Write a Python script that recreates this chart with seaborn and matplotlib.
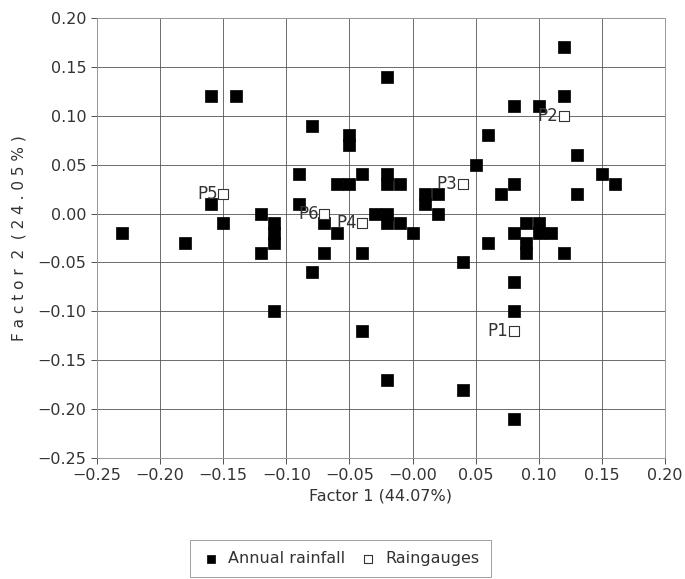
import numpy as np
import pandas as pd
import matplotlib
matplotlib.use("Agg")
import matplotlib.pyplot as plt
import seaborn as sns

# =======================
# Data (factor scores)
# =======================
rain_f1 = [-0.23, -0.18, -0.16, -0.14, -0.16, -0.15, -0.12, -0.12, -0.11, -0.11,
           -0.11, -0.11, -0.09, -0.09, -0.08, -0.08, -0.07, -0.07, -0.06, -0.06,
           -0.05, -0.05, -0.05, -0.04, -0.04, -0.04, -0.03, -0.02, -0.02, -0.02,
           -0.02, -0.02, -0.02, -0.01, -0.01, 0.00, 0.01, 0.01, 0.02, 0.02,
           0.04, 0.04, 0.05, 0.06, 0.06, 0.07, 0.08, 0.08, 0.08, 0.08,
           0.08, 0.08, 0.09, 0.09, 0.09, 0.10, 0.10, 0.10, 0.11, 0.12,
           0.12, 0.12, 0.13, 0.13, 0.15, 0.16]
rain_f2 = [-0.02, -0.03, 0.12, 0.12, 0.01, -0.01, 0.00, -0.04, -0.01, -0.02,
           -0.03, -0.10, 0.04, 0.01, 0.09, -0.06, -0.01, -0.04, 0.03, -0.02,
           0.08, 0.07, 0.03, 0.04, -0.04, -0.12, 0.00, 0.14, 0.04, 0.03,
           0.00, -0.01, -0.17, 0.03, -0.01, -0.02, 0.02, 0.01, 0.02, 0.00,
           -0.05, -0.18, 0.05, 0.08, -0.03, 0.02, 0.11, 0.03, -0.02, -0.07,
           -0.10, -0.21, -0.01, -0.03, -0.04, 0.11, -0.01, -0.02, -0.02, 0.17,
           0.12, -0.04, 0.06, 0.02, 0.04, 0.03]

gauge_names = ["P1", "P2", "P3", "P4", "P5", "P6"]
gauge_f1 = [0.08, 0.12, 0.04, -0.04, -0.15, -0.07]
gauge_f2 = [-0.12, 0.10, 0.03, -0.01, 0.02, 0.00]

x_ticks = [-0.25, -0.20, -0.15, -0.10, -0.05, 0.00, 0.05, 0.10, 0.15, 0.20]
x_tick_labels = ["\u22120.25", "\u22120.20", "\u22120.15", "\u22120.10", "\u22120.05",
                 "\u22120.00", "0.05", "0.10", "0.15", "0.20"]
y_ticks = [-0.25, -0.20, -0.15, -0.10, -0.05, 0.00, 0.05, 0.10, 0.15, 0.20]
y_tick_labels = ["\u22120.25", "\u22120.20", "\u22120.15", "\u22120.10", "\u22120.05",
                 "0.00", "0.05", "0.10", "0.15", "0.20"]

rain = pd.DataFrame({"f1": rain_f1, "f2": rain_f2})
gauges = pd.DataFrame({"name": gauge_names, "f1": gauge_f1, "f2": gauge_f2})

# =======================
# Plot
# =======================
sns.set_style("whitegrid", {"grid.color": "#444444", "axes.edgecolor": "#999999"})
plt.rcParams["font.family"] = ["DejaVu Sans"]

fig = plt.figure(figsize=(6.85, 5.79), dpi=100)
ax = fig.add_axes([0.1416, 0.209, 0.8292, 0.7599])

sns.scatterplot(data=rain, x="f1", y="f2", marker="s", s=64, color="black",
                edgecolor="black", linewidth=0.5, label="Annual rainfall",
                legend=False, ax=ax, zorder=3)
sns.scatterplot(data=gauges, x="f1", y="f2", marker="s", s=48, color="white",
                edgecolor="#333333", linewidth=0.8, label="Raingauges",
                legend=False, ax=ax, zorder=3)

for _, row in gauges.iterrows():
    ax.annotate(row["name"], (row["f1"], row["f2"]), xytext=(-4, 0),
                textcoords="offset points", ha="right", va="center",
                fontsize=12, color="#333333", zorder=4)

ax.set_xlim(-0.25, 0.20)
ax.set_ylim(-0.25, 0.20)
ax.set_xticks(x_ticks)
ax.set_xticklabels(x_tick_labels)
ax.set_yticks(y_ticks)
ax.set_yticklabels(y_tick_labels)
ax.grid(True, color="#555555", linewidth=0.6)
ax.tick_params(axis="both", labelsize=11.5, colors="#333333", length=4,
               direction="out", width=0.6, left=True, bottom=True)
for sp in ax.spines.values():
    sp.set_linewidth(0.7)

ax.set_xlabel("Factor 1 (44.07%)", fontsize=11.5, color="#333333")
ax.set_ylabel("F a c t o r  2  ( 2 4 . 0 5 % )", fontsize=11, color="#333333",
              labelpad=8)

handles, labels = ax.get_legend_handles_labels()
leg = fig.legend(handles, labels, loc="center", bbox_to_anchor=(0.497, 0.035),
                 ncol=2, frameon=True, fancybox=False, edgecolor="#888888",
                 fontsize=11.5, handletextpad=0.5, columnspacing=0.8,
                 handlelength=1.2, borderpad=0.7, markerscale=0.8)
leg.get_frame().set_linewidth(0.7)
for t in leg.get_texts():
    t.set_color("#333333")

fig.savefig("out.png", dpi=100)
